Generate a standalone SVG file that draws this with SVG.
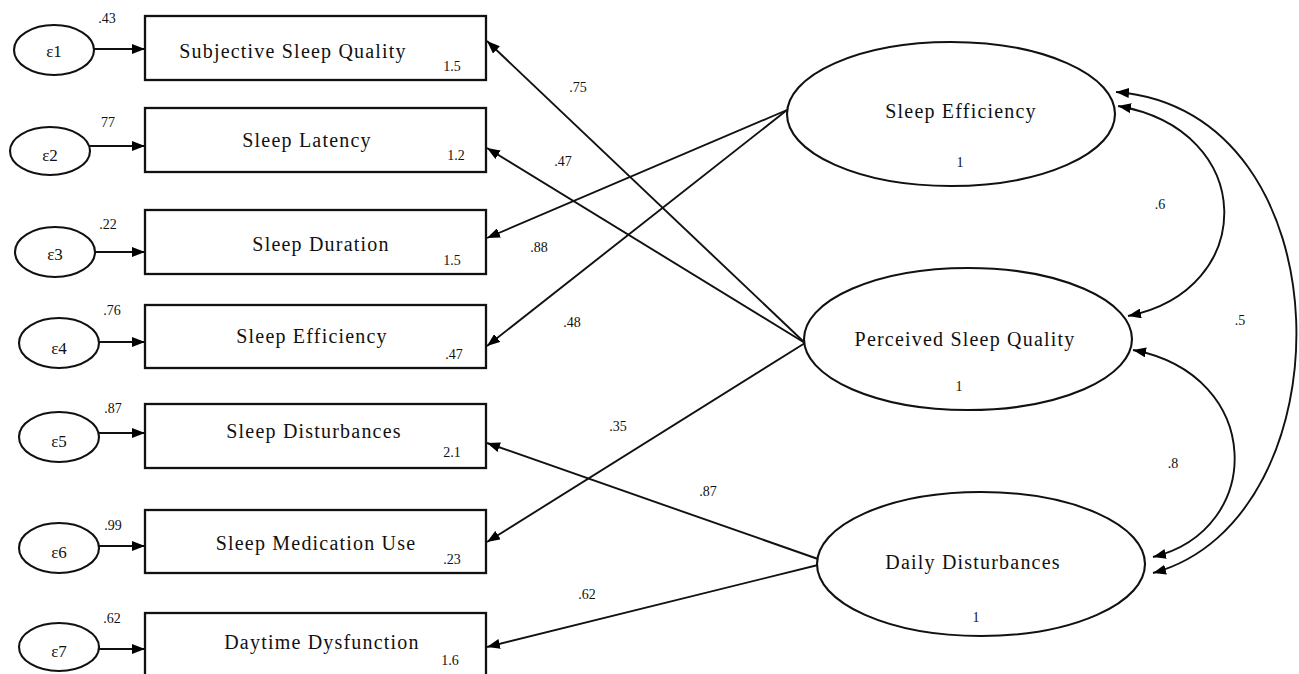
<svg xmlns="http://www.w3.org/2000/svg" width="1299" height="674" viewBox="0 0 1299 674">
<defs>
<marker id="ah" markerUnits="userSpaceOnUse" markerWidth="13" markerHeight="10" refX="13" refY="5" orient="auto-start-reverse" viewBox="0 0 13 10">
<path d="M0,0 L13,5 L0,10 z" fill="#000"/>
</marker>
<style>
text{font-family:"Liberation Serif","Times New Roman",serif;fill:#111;}
.box{fill:#fff;stroke:#111;stroke-width:2.3;}
.ell{fill:#fff;stroke:#111;stroke-width:2.1;}
.lbl{font-size:20px;letter-spacing:1.2px;text-anchor:middle;}
.lat{font-size:20px;letter-spacing:1.2px;text-anchor:middle;}
.num{font-size:14px;text-anchor:middle;}
.eps{font-size:17px;text-anchor:middle;}
.con{fill:none;stroke:#111;stroke-width:1.9;marker-end:url(#ah);}
.cov{fill:none;stroke:#111;stroke-width:1.9;marker-start:url(#ah);marker-end:url(#ah);}
</style>
</defs>
<rect width="1299" height="674" fill="#fff"/>

<g id="connectors">
<line class="con" x1="94" y1="49" x2="145" y2="49"/>
<line class="con" x1="90" y1="146" x2="145" y2="146"/>
<line class="con" x1="95" y1="252" x2="145" y2="252"/>
<line class="con" x1="99" y1="342" x2="145" y2="342"/>
<line class="con" x1="99" y1="433" x2="145" y2="433"/>
<line class="con" x1="99" y1="546" x2="145" y2="546"/>
<line class="con" x1="99" y1="649" x2="145" y2="649"/>

<line class="con" x1="805" y1="343" x2="487" y2="41"/>
<line class="con" x1="805" y1="343" x2="487" y2="148"/>
<line class="con" x1="787" y1="110" x2="487" y2="238"/>
<line class="con" x1="787" y1="110" x2="487" y2="346"/>
<line class="con" x1="805" y1="343" x2="487" y2="542"/>
<line class="con" x1="818" y1="559" x2="487" y2="443"/>
<line class="con" x1="818" y1="565" x2="487" y2="647"/>

<path class="cov" d="M1118,106 C1258,130 1258,290 1128,316"/>
<path class="cov" d="M1133,350 C1265,375 1265,530 1153,557"/>
<path class="cov" d="M1116,92 C1350,110 1350,520 1153,573"/>

<text class="num" x="578" y="92">.75</text>
<text class="num" x="563" y="166">.47</text>
<text class="num" x="539" y="252">.88</text>
<text class="num" x="572" y="327">.48</text>
<text class="num" x="618" y="431">.35</text>
<text class="num" x="708" y="496">.87</text>
<text class="num" x="587" y="599">.62</text>
<text class="num" x="1160" y="209">.6</text>
<text class="num" x="1240" y="325">.5</text>
<text class="num" x="1173" y="468">.8</text>
</g>

<g id="e1"><ellipse class="ell" cx="54" cy="50" rx="40" ry="25"/><text class="eps" x="54" y="57">ε1</text><text class="num" x="107" y="23">.43</text></g>
<g id="e2"><ellipse class="ell" cx="50" cy="151" rx="40" ry="24"/><text class="eps" x="50" y="161">ε2</text><text class="num" x="108" y="127">77</text></g>
<g id="e3"><ellipse class="ell" cx="55" cy="252" rx="40" ry="25"/><text class="eps" x="55" y="260">ε3</text><text class="num" x="108" y="229">.22</text></g>
<g id="e4"><ellipse class="ell" cx="59" cy="343" rx="40" ry="25"/><text class="eps" x="59" y="354">ε4</text><text class="num" x="112" y="315">.76</text></g>
<g id="e5"><ellipse class="ell" cx="59" cy="437" rx="40" ry="25"/><text class="eps" x="59" y="447">ε5</text><text class="num" x="113" y="413">.87</text></g>
<g id="e6"><ellipse class="ell" cx="59" cy="548" rx="40" ry="25"/><text class="eps" x="59" y="558">ε6</text><text class="num" x="113" y="530">.99</text></g>
<g id="e7"><ellipse class="ell" cx="59" cy="647" rx="40" ry="24"/><text class="eps" x="59" y="657">ε7</text><text class="num" x="112" y="623">.62</text></g>

<g id="subjective"><rect class="box" x="145" y="16" width="341" height="64"/><text class="lbl" x="293" y="58">Subjective Sleep Quality</text><text class="num" x="452" y="71">1.5</text></g>
<g id="latency"><rect class="box" x="145" y="108" width="341" height="64"/><text class="lbl" x="307" y="147">Sleep Latency</text><text class="num" x="456" y="160">1.2</text></g>
<g id="duration"><rect class="box" x="145" y="210" width="341" height="64"/><text class="lbl" x="321" y="251">Sleep Duration</text><text class="num" x="452" y="265">1.5</text></g>
<g id="efficiency"><rect class="box" x="145" y="305" width="341" height="63"/><text class="lbl" x="312" y="343">Sleep Efficiency</text><text class="num" x="454" y="359">.47</text></g>
<g id="disturbances"><rect class="box" x="145" y="404" width="341" height="64"/><text class="lbl" x="314" y="438">Sleep Disturbances</text><text class="num" x="452" y="457">2.1</text></g>
<g id="medication"><rect class="box" x="145" y="510" width="341" height="63"/><text class="lbl" x="316" y="550">Sleep Medication Use</text><text class="num" x="452" y="564">.23</text></g>
<g id="daytime"><rect class="box" x="145" y="613" width="341" height="70"/><text class="lbl" x="322" y="649">Daytime Dysfunction</text><text class="num" x="450" y="665">1.6</text></g>

<g id="lat-efficiency"><ellipse class="ell" cx="951" cy="114" rx="164" ry="72"/><text class="lat" x="961" y="118">Sleep Efficiency</text><text class="num" x="960" y="167">1</text></g>
<g id="lat-perceived"><ellipse class="ell" cx="968" cy="339" rx="164" ry="71"/><text class="lat" x="965" y="346">Perceived Sleep Quality</text><text class="num" x="959" y="391">1</text></g>
<g id="lat-daily"><ellipse class="ell" cx="981" cy="564" rx="164" ry="72"/><text class="lat" x="973" y="569">Daily Disturbances</text><text class="num" x="976" y="622">1</text></g>
</svg>
